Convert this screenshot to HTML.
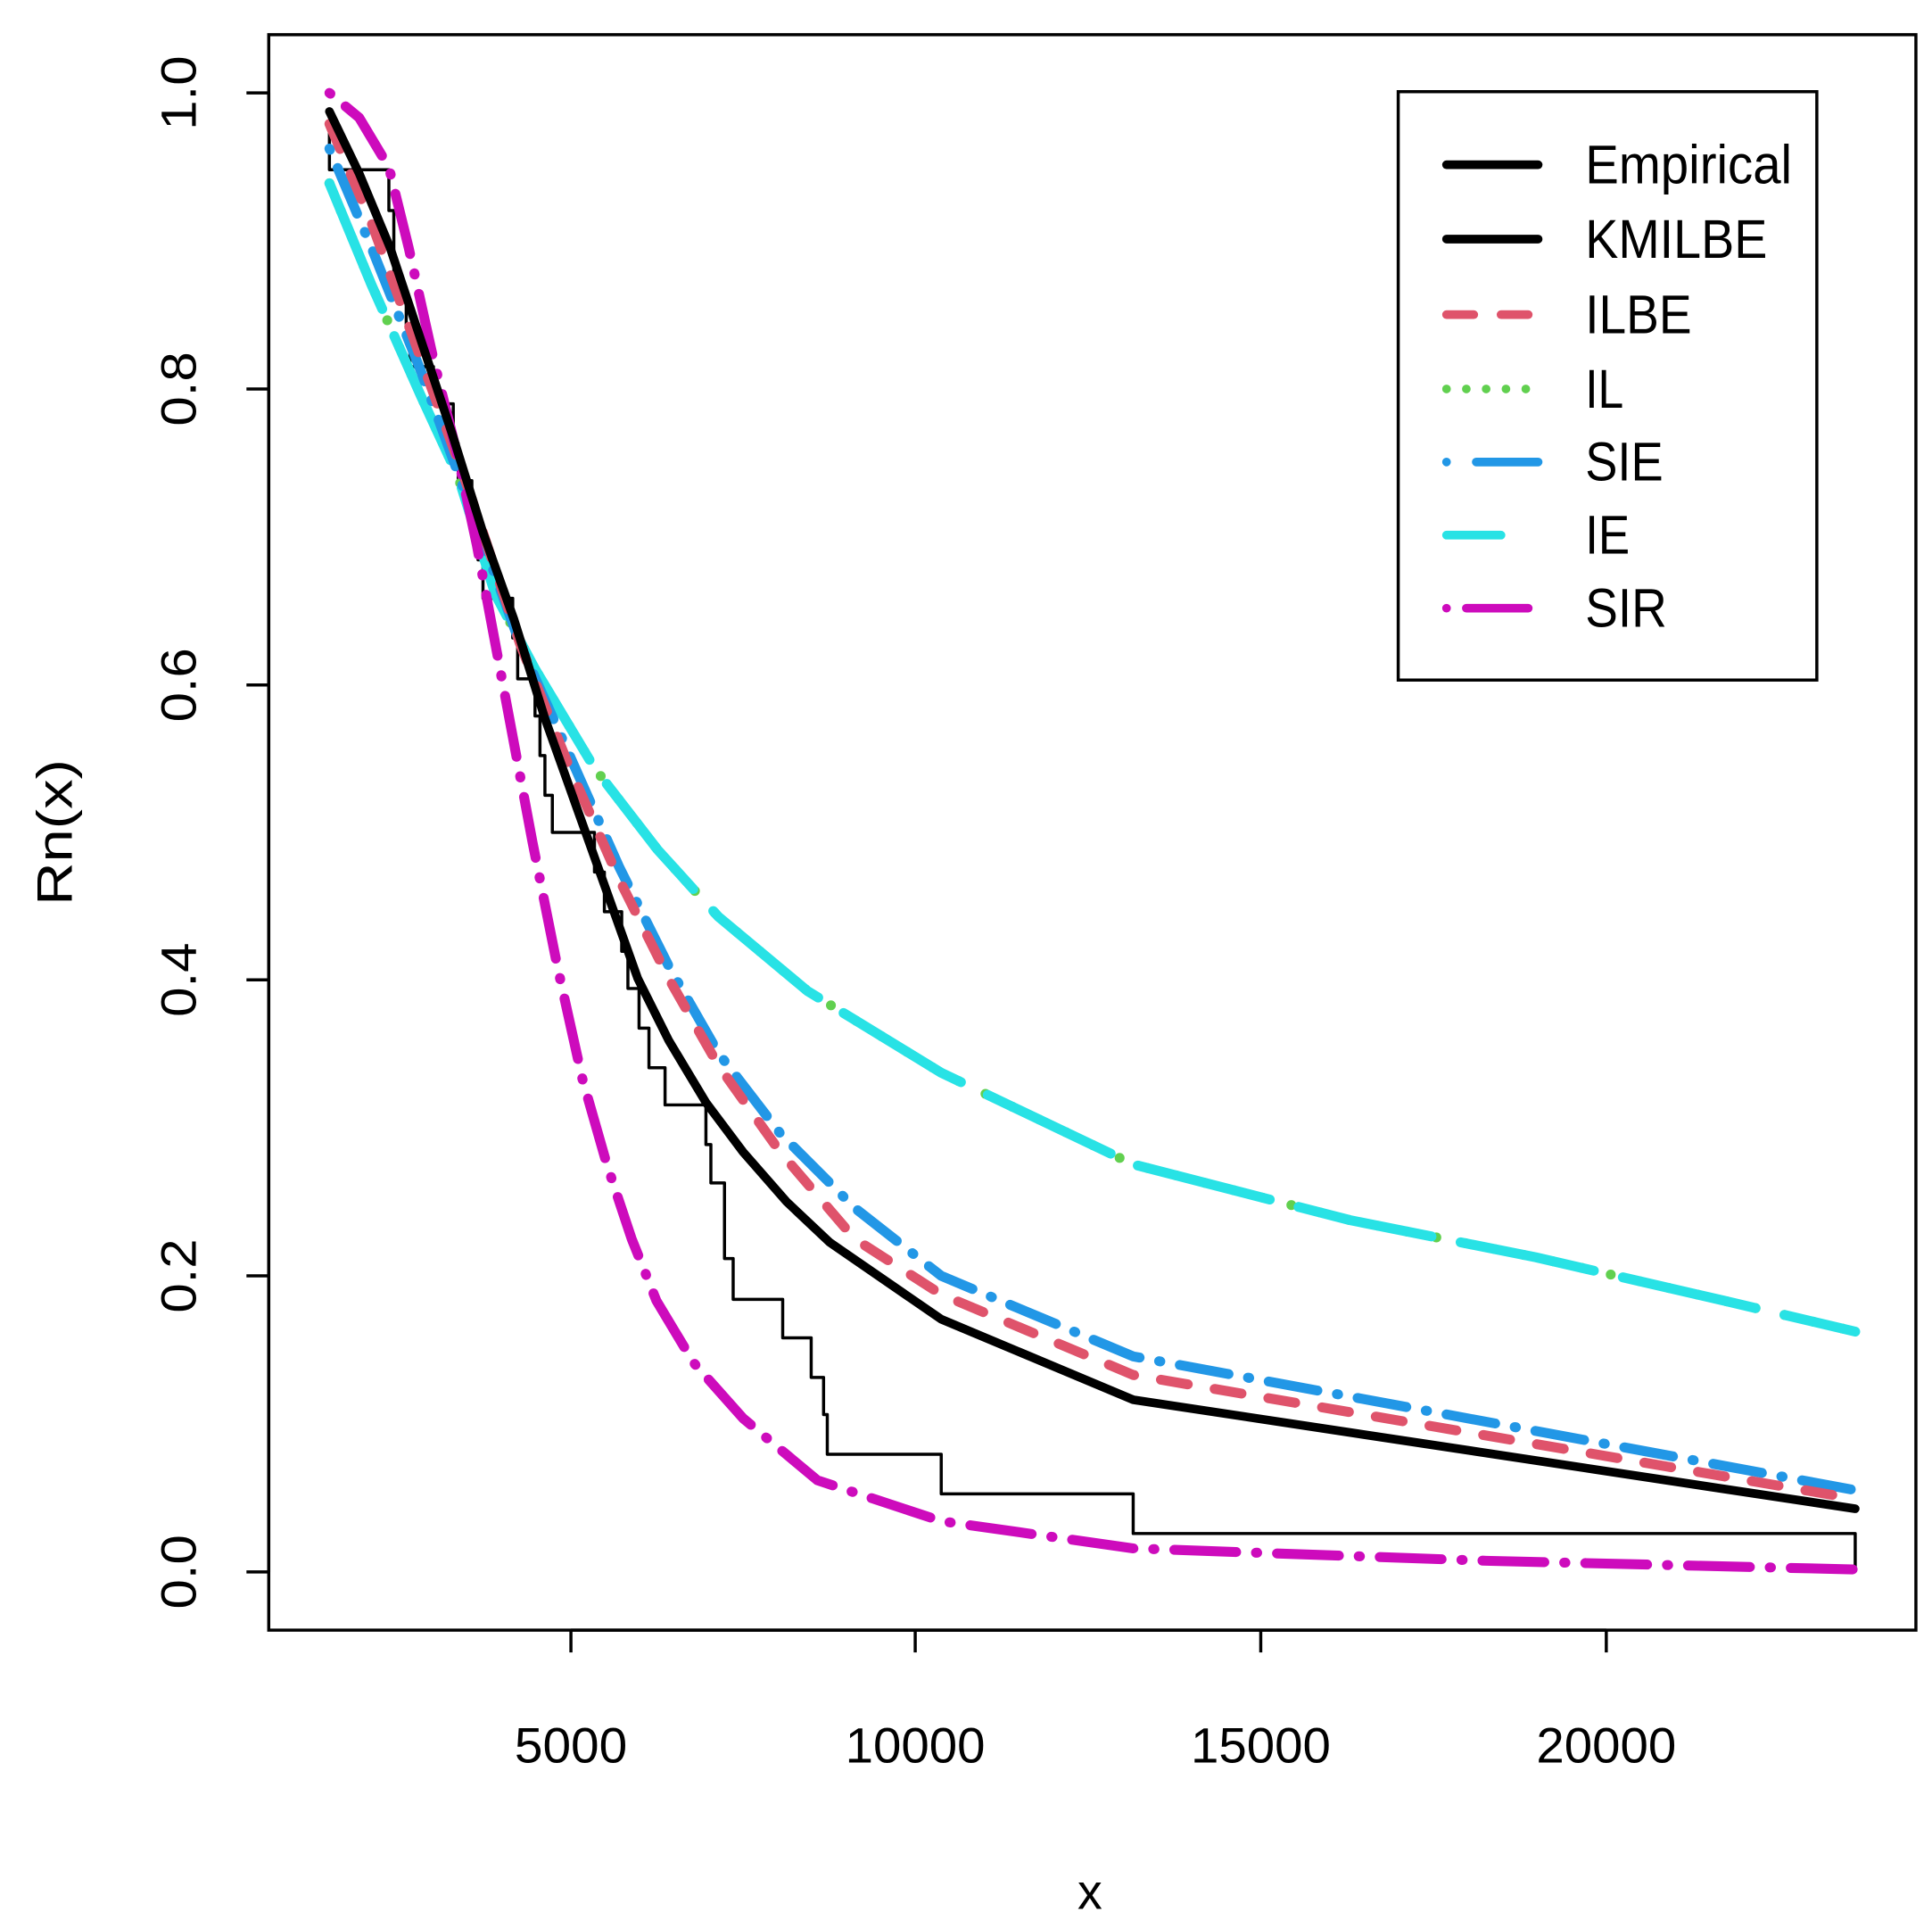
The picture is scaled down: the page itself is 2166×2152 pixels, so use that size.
<!DOCTYPE html>
<html><head><meta charset="utf-8"><style>html,body{margin:0;padding:0;background:#fff}svg{display:block}</style></head>
<body>
<svg width="2166" height="2152" viewBox="0 0 1560 1550" preserveAspectRatio="none" xmlns="http://www.w3.org/2000/svg" font-family="Liberation Sans, sans-serif">
<rect width="1560" height="1550" fill="#fff"/>
<rect x="217" y="28" width="1330" height="1288" fill="none" stroke="#000" stroke-width="2.5"/>
<g stroke="#000" stroke-width="2.5">
<line x1="461" y1="1316" x2="1297" y2="1316"/>
<line x1="461" y1="1316" x2="461" y2="1334"/><line x1="739" y1="1316" x2="739" y2="1334"/><line x1="1018" y1="1316" x2="1018" y2="1334"/><line x1="1297" y1="1316" x2="1297" y2="1334"/>
<line x1="217" y1="75" x2="217" y2="1269"/>
<line x1="199" y1="75" x2="217" y2="75"/><line x1="199" y1="314" x2="217" y2="314"/><line x1="199" y1="553" x2="217" y2="553"/><line x1="199" y1="791" x2="217" y2="791"/><line x1="199" y1="1030" x2="217" y2="1030"/><line x1="199" y1="1269" x2="217" y2="1269"/>
</g>
<g font-size="40" text-anchor="middle" fill="#000" lengthAdjust="spacingAndGlyphs">
<text x="461" y="1423" textLength="91" lengthAdjust="spacingAndGlyphs">5000</text>
<text x="739" y="1423" textLength="113" lengthAdjust="spacingAndGlyphs">10000</text>
<text x="1018" y="1423" textLength="113" lengthAdjust="spacingAndGlyphs">15000</text>
<text x="1297" y="1423" textLength="113" lengthAdjust="spacingAndGlyphs">20000</text>
<text x="880" y="1541">x</text>
<text transform="translate(158,75) rotate(-90)" textLength="60" lengthAdjust="spacingAndGlyphs">1.0</text>
<text transform="translate(158,314) rotate(-90)" textLength="60" lengthAdjust="spacingAndGlyphs">0.8</text>
<text transform="translate(158,553) rotate(-90)" textLength="60" lengthAdjust="spacingAndGlyphs">0.6</text>
<text transform="translate(158,791) rotate(-90)" textLength="60" lengthAdjust="spacingAndGlyphs">0.4</text>
<text transform="translate(158,1030) rotate(-90)" textLength="60" lengthAdjust="spacingAndGlyphs">0.2</text>
<text transform="translate(158,1269) rotate(-90)" textLength="60" lengthAdjust="spacingAndGlyphs">0.0</text>
<text transform="translate(58,672) rotate(-90)" textLength="118" lengthAdjust="spacingAndGlyphs">Rn(x)</text>
</g>
<g fill="none" stroke-linecap="round" stroke-linejoin="round">
<path d="M266,106 V137 H314 V170 H318 V232 H328 V265 H331 V296 H350 V326 H366 V358 H370 V388 H381 V420 H386 V452 H390 V483 H414 V515 H418 V548 H432 V578 H436 V610 H440 V642 H446 V672 H480 V704 H488 V736 H502 V768 H507 V798 H516 V830 H524 V862 H537 V892 H570 V924 H574 V955 H585 V1016 H592 V1049 H632 V1080 H655 V1112 H665 V1142 H668 V1174 H760 V1206 H915 V1238 H1498 V1269" stroke="#000" stroke-width="2.5" stroke-linecap="butt"/>
<path d="M266,148 L300,230 L340,320 L370,385 L400,480 L432,540 L480,620 L531,686 L580,740 L652,800 L760,866 L915,940 L1090,985 L1240,1015 L1392,1050 L1498,1075" stroke="#61D04F" stroke-width="8" stroke-dasharray="0 24"/>
<path d="M266,148 L300,230 L340,320 L370,385 L400,480 L432,540 L480,620 L531,686 L580,740 L652,800 L760,866 L915,940 L1090,985 L1240,1015 L1392,1050 L1498,1075" stroke="#28E2E5" stroke-width="8" stroke-dasharray="110 24"/>
<path d="M266,120 L300,200 L340,300 L380,410 L420,520 L460,610 L500,700 L540,780 L580,850 L630,915 L690,975 L760,1030 L915,1095 L1498,1203" stroke="#2297E6" stroke-width="8" stroke-dasharray="1 16 40 16"/>
<path d="M266,100 L300,180 L340,290 L380,400 L420,520 L460,620 L500,710 L540,790 L580,860 L630,930 L690,1000 L760,1045 L915,1110 L1498,1210" stroke="#DF536B" stroke-width="8" stroke-dasharray="22 22"/>
<path d="M266,75 L290,95 L314,135 L330,200 L350,290 L370,370 L385,440 L400,520 L415,600 L430,680 L450,780 L470,870 L490,940 L510,1000 L530,1050 L560,1100 L600,1145 L660,1195 L760,1228 L915,1250 L1200,1260 L1498,1267" stroke="#CD0BBC" stroke-width="8" stroke-dasharray="1 16 50 16"/>
<path d="M266,90 L290,140 L315,200 L340,275 L365,350 L390,430 L415,500 L440,580 L465,650 L490,720 L515,790 L540,840 L570,890 L600,930 L635,970 L670,1003 L760,1065 L915,1130 L1498,1218" stroke="#000" stroke-width="7"/>
</g>
<rect x="1129" y="74" width="338" height="475" fill="#fff" stroke="#000" stroke-width="2.5"/>
<g stroke-width="7" stroke-linecap="round" fill="none">
<line x1="1168" y1="133" x2="1242" y2="133" stroke="#000"/>
<line x1="1168" y1="193" x2="1242" y2="193" stroke="#000"/>
<line x1="1168" y1="254" x2="1242" y2="254" stroke="#DF536B" stroke-dasharray="22 22"/>
<line x1="1168" y1="314" x2="1242" y2="314" stroke="#61D04F" stroke-dasharray="0 16"/>
<line x1="1168" y1="373" x2="1242" y2="373" stroke="#2297E6" stroke-dasharray="0 24 50 0"/>
<line x1="1168" y1="432" x2="1212" y2="432" stroke="#28E2E5"/>
<line x1="1168" y1="491" x2="1242" y2="491" stroke="#CD0BBC" stroke-dasharray="0 16 50 0"/>
</g>
<g font-size="44" fill="#000">
<text x="1280" y="148" textLength="167" lengthAdjust="spacingAndGlyphs">Empirical</text>
<text x="1280" y="208" textLength="147" lengthAdjust="spacingAndGlyphs">KMILBE</text>
<text x="1280" y="269" textLength="86" lengthAdjust="spacingAndGlyphs">ILBE</text>
<text x="1280" y="329" textLength="31" lengthAdjust="spacingAndGlyphs">IL</text>
<text x="1280" y="388" textLength="63" lengthAdjust="spacingAndGlyphs">SIE</text>
<text x="1280" y="447" textLength="36" lengthAdjust="spacingAndGlyphs">IE</text>
<text x="1280" y="506" textLength="66" lengthAdjust="spacingAndGlyphs">SIR</text>
</g>
</svg>
</body></html>
